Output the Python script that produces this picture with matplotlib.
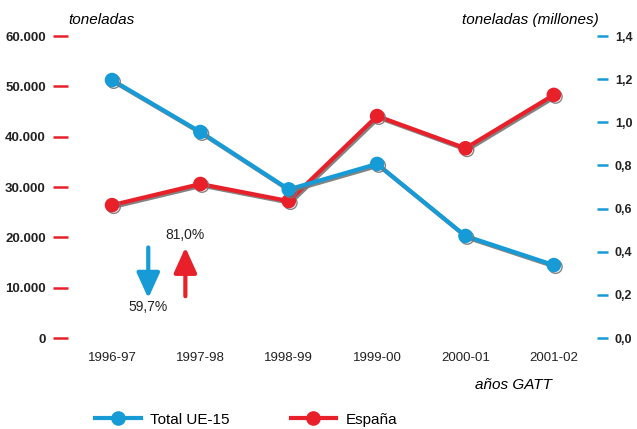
import matplotlib
matplotlib.use("Agg")
import matplotlib.pyplot as plt
import matplotlib.patheffects as pe
from matplotlib.lines import Line2D

# data
years = ["1996-97", "1997-98", "1998-99", "1999-00", "2000-01", "2001-02"]
espana = [26400, 30600, 27200, 44100, 37700, 48300]        # toneladas
total_ue15 = [1.196, 0.955, 0.689, 0.807, 0.473, 0.338]     # millones de toneladas
left_ticks = [0, 10000, 20000, 30000, 40000, 50000, 60000]
left_labels = ["0", "10.000", "20.000", "30.000", "40.000", "50.000", "60.000"]
right_ticks = [0.0, 0.2, 0.4, 0.6, 0.8, 1.0, 1.2, 1.4]
right_labels = ["0,0", "0,2", "0,4", "0,6", "0,8", "1,0", "1,2", "1,4"]

BLUE = "#169bd7"
RED = "#e8202a"
narrow = ["Liberation Sans Narrow", "Liberation Sans", "DejaVu Sans"]
plt.rcParams["font.family"] = ["Liberation Sans", "DejaVu Sans"]

fig = plt.figure(figsize=(6.37, 4.29), dpi=100)
ax = fig.add_axes([0.1068, 0.2121, 0.8302, 0.7039])
ax2 = ax.twinx()

shadow = [pe.SimpleLineShadow(offset=(1.2, -1.2), shadow_color="#777777", alpha=0.9), pe.Normal()]
x = list(range(len(years)))
ax.plot(x, espana, color=RED, lw=3, marker="o", ms=9.5, path_effects=shadow, zorder=3)
ax2.plot(x, total_ue15, color=BLUE, lw=3, marker="o", ms=9.5, path_effects=shadow, zorder=3)

ax.set_xlim(-0.498, 5.487)
ax.set_ylim(0, 60000)
ax2.set_ylim(0, 1.4)

for a in (ax, ax2):
    for s in a.spines.values():
        s.set_visible(False)

ax.set_yticks(left_ticks, left_labels)
ax.tick_params(axis="y", length=11, width=1.8, color=RED, pad=5, labelsize=9.5)
for t in ax.get_yticklabels():
    t.set_fontweight("bold")
    t.set_color("#222222")
ax2.set_yticks(right_ticks, right_labels)
ax2.tick_params(axis="y", length=8, width=1.8, color=BLUE, pad=5, labelsize=9)
for t in ax2.get_yticklabels():
    t.set_fontweight("bold")
    t.set_color("#222222")

ax.set_xticks(x, years)
ax.tick_params(axis="x", length=0, pad=10, labelsize=9.5)
for t in ax.get_xticklabels():
    t.set_family(narrow)
    t.set_color("#222222")

fig.text(0.107, 0.953, "toneladas", style="italic", fontsize=11, ha="left", va="center")
fig.text(0.940, 0.953, "toneladas (millones)", style="italic", fontsize=11, ha="right", va="center")
fig.text(0.867, 0.103, "años GATT", style="italic", fontsize=11, ha="right", va="center")

# variation arrows
ax.annotate("", xy=(0.41, 7900), xytext=(0.41, 18000),
            arrowprops=dict(arrowstyle="-|>,head_width=0.5,head_length=1.1", color=BLUE, lw=3,
                            mutation_scale=14, shrinkA=0, shrinkB=0))
ax.text(0.41, 6100, "59,7%", ha="center", va="center", fontsize=10, family=narrow, color="#222222")
ax.annotate("", xy=(0.83, 18000), xytext=(0.83, 8300),
            arrowprops=dict(arrowstyle="-|>,head_width=0.5,head_length=1.1", color=RED, lw=3,
                            mutation_scale=14, shrinkA=0, shrinkB=0))
ax.text(0.83, 20400, "81,0%", ha="center", va="center", fontsize=10, family=narrow, color="#222222")

handles = [Line2D([], [], color=BLUE, lw=3, marker="o", ms=9.5),
           Line2D([], [], color=RED, lw=3, marker="o", ms=9.5)]
fig.legend(handles, ["Total UE-15", "España"], loc="center left", bbox_to_anchor=(0.149, 0.022),
           ncol=2, frameon=False, handlelength=3.0, columnspacing=4.0, handletextpad=0.6,
           borderpad=0, borderaxespad=0, prop={"family": narrow, "size": 11})

fig.savefig("out.png", dpi=100)
